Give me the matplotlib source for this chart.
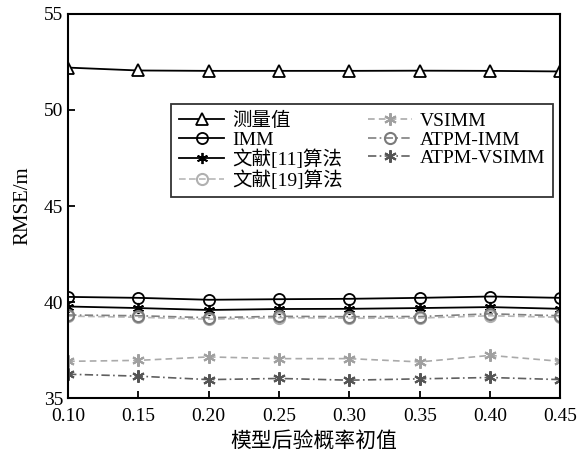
import numpy as np
import matplotlib
matplotlib.use("Agg")
import matplotlib.pyplot as plt

plt.rcParams['font.family'] = ['Liberation Serif', 'Noto Sans CJK SC']
plt.rcParams['axes.unicode_minus'] = False

# data
p0 = [0.10, 0.15, 0.20, 0.25, 0.30, 0.35, 0.40, 0.45]
measured = [52.2, 52.05, 52.03, 52.03, 52.03, 52.04, 52.03, 52.0]
imm = [40.28, 40.23, 40.13, 40.16, 40.18, 40.23, 40.3, 40.23]
ref11 = [39.78, 39.7, 39.6, 39.65, 39.66, 39.7, 39.75, 39.66]
ref19 = [39.28, 39.22, 39.12, 39.2, 39.17, 39.18, 39.3, 39.22]
vsimm = [36.93, 36.98, 37.16, 37.07, 37.07, 36.9, 37.24, 36.93]
atpm_imm = [39.34, 39.3, 39.2, 39.27, 39.25, 39.26, 39.4, 39.3]
atpm_vsimm = [36.26, 36.16, 35.98, 36.04, 35.95, 36.02, 36.09, 35.98]

xticks = [0.10, 0.15, 0.20, 0.25, 0.30, 0.35, 0.40, 0.45]
yticks = [35, 40, 45, 50, 55]

ast = (6, 2, 0)

fig = plt.figure(figsize=(5.82, 4.58), dpi=100)
ax = fig.add_axes([0.117, 0.13, 0.846, 0.84])

h1, = ax.plot(p0, measured, color='black', lw=1.3, marker='^', ms=8,
              mfc='white', mec='black', mew=1.3, label='测量值')
h2, = ax.plot(p0, imm, color='black', lw=1.3, marker='o', ms=8,
              mfc='none', mec='black', mew=1.3, label='IMM')
h3, = ax.plot(p0, ref11, color='black', lw=1.3, marker=ast, ms=8,
              mec='black', mew=1.3, label='文献[11]算法')
h4, = ax.plot(p0, ref19, color='#b8b8b8', lw=1.2, ls=(0, (4, 2)), marker='o', ms=8,
              mfc='none', mec='#b0b0b0', mew=1.5, label='文献[19]算法')
h5, = ax.plot(p0, vsimm, color='#aaaaaa', lw=1.2, ls=(0, (4, 2.5)), marker=ast, ms=9,
              mec='#a0a0a0', mew=1.5, label='VSIMM')
h6, = ax.plot(p0, atpm_imm, color='#808080', lw=1.2, ls=(0, (5, 2, 1, 2)), marker='o', ms=8,
              mfc='none', mec='#7a7a7a', mew=1.5, label='ATPM-IMM')
h7, = ax.plot(p0, atpm_vsimm, color='#606060', lw=1.2, ls=(0, (5, 2, 1, 2)), marker=ast, ms=9,
              mec='#555555', mew=1.5, label='ATPM-VSIMM')

ax.set_xlim(0.10, 0.45)
ax.set_ylim(35, 55)
ax.set_xticks(xticks)
ax.set_xticklabels(['%.2f' % v for v in xticks])
ax.set_yticks(yticks)
ax.tick_params(direction='in', length=5, width=1.3, labelsize=14, top=False, right=False)
ax.tick_params(axis='x', pad=7)
for s in ax.spines.values():
    s.set_linewidth(1.5)

ax.set_xlabel('模型后验概率初值', fontsize=15, labelpad=5)
ax.set_ylabel('RMSE/m', fontsize=15, labelpad=8)

leg = ax.legend(handles=[h1, h2, h3, h4, h5, h6, h7], ncol=2, loc='upper left',
                bbox_to_anchor=(0.21, 0.765), borderaxespad=0, fontsize=14,
                frameon=True, fancybox=False, edgecolor='black', handlelength=2.3,
                handletextpad=0.4, columnspacing=1.3, labelspacing=0.05,
                borderpad=0.4)
leg.get_frame().set_linewidth(1.3)

plt.savefig('out.png', dpi=100)
